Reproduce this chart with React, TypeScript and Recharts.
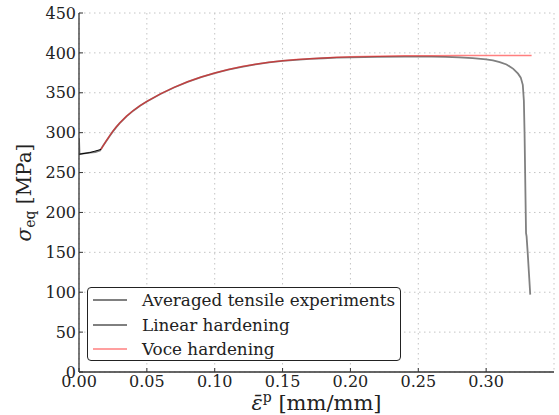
import React from "react";
import { LineChart, Line, XAxis, YAxis, CartesianGrid, Legend } from "recharts";

// averaged tensile experiments (gray)
const expStrain = [
  0, 0.0004, 0.004, 0.008, 0.012, 0.0155, 0.0175, 0.02, 0.0225, 0.025, 0.0275, 0.03, 0.035, 0.04, 0.045, 0.05,
  0.06, 0.07, 0.08, 0.09, 0.1, 0.11, 0.12, 0.13, 0.14, 0.15, 0.16, 0.17, 0.18, 0.19, 0.2,
  0.22, 0.24, 0.26, 0.27, 0.28, 0.29, 0.3, 0.305, 0.31, 0.315, 0.32,
  0.3235, 0.3255, 0.327, 0.3278, 0.3283, 0.3289, 0.3294, 0.3298, 0.3306, 0.3315, 0.3325,
];
const expStress = [
  293, 273, 274, 275, 275.5, 277.5, 283, 289.3, 295.5, 301.6, 307, 312, 320.5, 327.6, 333.7, 339,
  348.4, 356.6, 363.6, 369.6, 374.7, 379, 382.6, 385.6, 388, 389.9, 391.3, 392.4, 393.3, 394, 394.5,
  395, 395.2, 395.2, 395, 394.5, 393.5, 392, 390.5, 388.5, 385.5, 380,
  374, 369, 360, 340, 300, 230, 174, 170, 150, 125, 97,
];

// linear hardening (black)
const linStrain = [0, 0.008, 0.0162];
const linStress = [273, 275, 279];

// voce hardening (red)
const voceStrain = [
  0.0162, 0.018, 0.02, 0.0225, 0.025, 0.0275, 0.03, 0.035, 0.04, 0.045, 0.05,
  0.06, 0.07, 0.08, 0.09, 0.1, 0.11, 0.12, 0.13, 0.14, 0.15, 0.16, 0.17, 0.18, 0.19, 0.2,
  0.22, 0.24, 0.26, 0.28, 0.3, 0.3335,
];
const voceStress = [
  279, 284.2, 289.6, 296, 301.9, 307.3, 312.2, 320.7, 327.8, 333.9, 339.2,
  348.6, 356.8, 363.8, 369.8, 374.9, 379.2, 382.8, 385.8, 388.2, 390.1, 391.6, 392.8, 393.7, 394.5, 395.1,
  395.9, 396.3, 396.5, 396.6, 396.7, 396.8,
];

const strainTicks = [0, 0.05, 0.1, 0.15, 0.2, 0.25, 0.3];
const stressTicks = [0, 50, 100, 150, 200, 250, 300, 350, 400, 450];

const toRows = (xs: number[], ys: number[]) => xs.map((x, i) => ({ x, y: ys[i] }));

const FONT = "'DejaVu Serif', serif";
const FRAME = "#333";
const tickText = { fontFamily: FONT, fontSize: 16, fill: "#222" };

const LeftTick = (props: any) => {
  const { x, y, payload } = props;
  const ax = x + 3;
  return (
    <g>
      <text x={x} y={y} dy="0.355em" textAnchor="end" style={tickText}>
        {payload.value}
      </text>
      <line x1={ax} x2={ax + 4} y1={y} y2={y} stroke={FRAME} />
    </g>
  );
};

const BottomTick = (props: any) => {
  const { x, y, payload } = props;
  const ay = y - 4;
  return (
    <g>
      <text x={x} y={y} dy="0.71em" textAnchor="middle" style={tickText}>
        {payload.value.toFixed(2)}
      </text>
      <line x1={x} x2={x} y1={ay} y2={ay - 4} stroke={FRAME} />
    </g>
  );
};

const RightTick = (props: any) => {
  const { x, y } = props;
  return <line x1={x - 4} x2={x} y1={y} y2={y} stroke={FRAME} />;
};

const TopTick = (props: any) => {
  const { x, y } = props;
  return <line x1={x} x2={x} y1={y} y2={y + 4} stroke={FRAME} />;
};

const StressLabel = (props: any) => {
  const vb = props.viewBox;
  const cx = vb.x + 31;
  const cy = vb.y + vb.height / 2;
  return (
    <text
      x={cx}
      y={cy}
      transform={`rotate(-90 ${cx} ${cy})`}
      textAnchor="middle"
      style={{ fontFamily: FONT, fontSize: 20, fill: "#222" }}
    >
      <tspan fontStyle="italic">σ</tspan>
      <tspan fontSize={14} dy={4}>eq</tspan>
      <tspan dy={-4}> [MPa]</tspan>
    </text>
  );
};

const StrainLabel = (props: any) => {
  const vb = props.viewBox;
  const cx = vb.x + vb.width / 2;
  const cy = vb.y + 38;
  return (
    <text x={cx} y={cy} textAnchor="middle" style={{ fontFamily: FONT, fontSize: 21, fill: "#222" }}>
      <tspan fontStyle="italic">ε̄</tspan>
      <tspan fontSize={14} dy={-8}>p</tspan>
      <tspan dy={8}> [mm/mm]</tspan>
    </text>
  );
};

const legendStyle: Record<string, { w: number; o: number }> = {
  "Averaged tensile experiments": { w: 1.8, o: 1 },
  "Linear hardening": { w: 1, o: 1 },
  "Voce hardening": { w: 1.5, o: 0.5 },
};

const LegendBox = (props: any) => {
  const items = props.payload || [];
  return (
    <div
      style={{
        width: 314,
        height: 74,
        boxSizing: "border-box",
        border: "1.3px solid #222",
        borderRadius: 4,
        background: "#fff",
        padding: "0px 0 0 5px",
        fontFamily: FONT,
        fontSize: 16.8,
        color: "#222",
      }}
    >
      {items.map((it: any) => {
        const st = legendStyle[it.value] || { w: 1, o: 1 };
        return (
          <div key={it.value} style={{ display: "flex", alignItems: "center", height: 24.5 }}>
            <svg width={34} height={4} style={{ display: "block" }}>
              <line x1={0} x2={34} y1={2} y2={2} stroke={it.color} strokeWidth={st.w} strokeOpacity={st.o} />
            </svg>
            <span style={{ marginLeft: 15, lineHeight: "20px", whiteSpace: "nowrap" }}>{it.value}</span>
          </div>
        );
      })}
    </div>
  );
};

export default function App() {
  return (
    <div style={{ position: "absolute", left: 0, top: 0, background: "#fff" }}>
      <LineChart width={559} height={415} margin={{ top: 13, right: 5, left: 0, bottom: 0 }}>
        <CartesianGrid stroke="#c4c4c4" strokeDasharray="1.5 3.5" />
        <XAxis
          dataKey="x"
          type="number"
          domain={[0, 0.35]}
          ticks={strainTicks}
          allowDataOverflow
          height={43}
          tickSize={0}
          tickMargin={4}
          tick={<BottomTick />}
          axisLine={{ stroke: FRAME, strokeWidth: 1.3 }}
          label={<StrainLabel />}
        />
        <XAxis
          xAxisId="top"
          orientation="top"
          type="number"
          domain={[0, 0.35]}
          ticks={strainTicks}
          allowDataOverflow
          height={0}
          tickSize={0}
          tickMargin={0}
          tick={<TopTick />}
          axisLine={{ stroke: FRAME, strokeWidth: 1.3 }}
        />
        <YAxis
          type="number"
          domain={[0, 450]}
          ticks={stressTicks}
          allowDataOverflow
          width={79}
          tickSize={0}
          tickMargin={3}
          tick={<LeftTick />}
          axisLine={{ stroke: FRAME, strokeWidth: 1.3 }}
          label={<StressLabel />}
        />
        <YAxis
          yAxisId="right"
          orientation="right"
          type="number"
          domain={[0, 450]}
          ticks={stressTicks}
          allowDataOverflow
          width={0}
          tickSize={0}
          tickMargin={0}
          tick={<RightTick />}
          axisLine={{ stroke: FRAME, strokeWidth: 1.3 }}
        />
        <Line
          data={toRows(expStrain, expStress)}
          dataKey="y"
          name="Averaged tensile experiments"
          stroke="#808080"
          strokeWidth={1.8}
          dot={false}
          isAnimationActive={false}
        />
        <Line
          data={toRows(linStrain, linStress)}
          dataKey="y"
          name="Linear hardening"
          stroke="#000"
          strokeWidth={1}
          dot={false}
          isAnimationActive={false}
        />
        <Line
          data={toRows(voceStrain, voceStress)}
          dataKey="y"
          name="Voce hardening"
          stroke="#ff0000"
          strokeOpacity={0.5}
          strokeWidth={1.5}
          dot={false}
          isAnimationActive={false}
        />
        <Legend
          layout="vertical"
          align="center"
          verticalAlign="middle"
          content={<LegendBox />}
          wrapperStyle={{ left: 87, top: 287, width: 314 }}
        />
      </LineChart>
    </div>
  );
}
